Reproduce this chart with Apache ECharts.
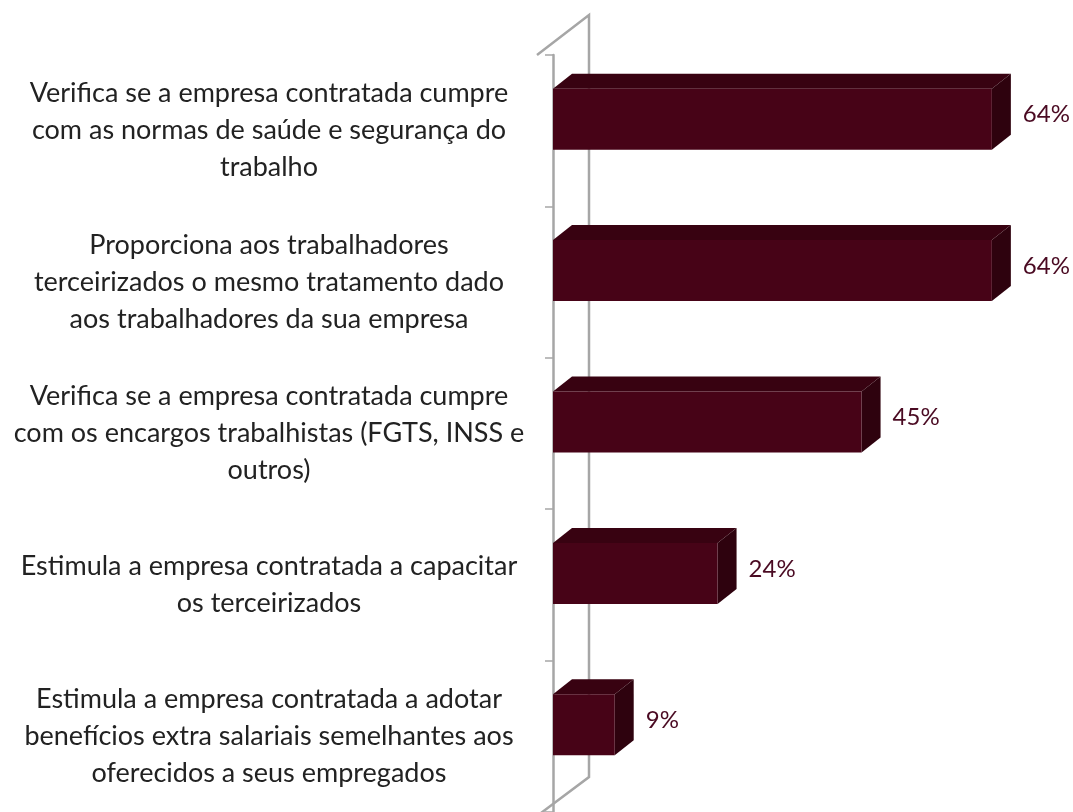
<!DOCTYPE html>
<html>
<head>
<meta charset="utf-8">
<script src="https://cdn.jsdelivr.net/npm/echarts@6/dist/echarts.min.js"></script>
<style>
  html, body { margin: 0; padding: 0; background: #fff; }
  #chart { width: 1073px; height: 812px; }
</style>
</head>
<body>
<div id="chart"></div>
<script>
const categories = [
  "Verifica se a empresa contratada cumpre\ncom as normas de saúde e segurança do\ntrabalho",
  "Proporciona aos trabalhadores\nterceirizados o mesmo tratamento dado\naos trabalhadores da sua empresa",
  "Verifica se a empresa contratada cumpre\ncom os encargos trabalhistas (FGTS, INSS e\noutros)",
  "Estimula a empresa contratada a capacitar\nos terceirizados",
  "Estimula a empresa contratada a adotar\nbenefícios extra salariais semelhantes aos\noferecidos a seus empregados"
];
const values = [64, 64, 45, 24, 9];

const FRONT = "#470317";
const TOP = "#380211";
const SIDE = "#2e020e";
const WALL = "#a6a6a6";
const FONT = "Lato, 'Open Sans', sans-serif";

const chart = echarts.init(document.getElementById("chart"));

const option = {
  animation: false,
  grid: { left: 553, right: 40, top: 55, bottom: 0 },
  graphic: [
    {
      type: "polyline",
      z: 0,
      shape: { points: [[537, 55], [589, 15], [589, 777], [537, 816]] },
      style: { stroke: WALL, lineWidth: 2.5, fill: null }
    }
  ],
  xAxis: { type: "value", min: 0, max: 70, show: false },
  yAxis: {
    type: "category",
    inverse: true,
    data: categories,
    offset: 16,
    axisLine: { show: true, lineStyle: { color: WALL, width: 2.5 } },
    axisTick: { show: true, length: 8, lineStyle: { color: WALL, width: 1.5 } },
    axisLabel: {
      align: "center",
      margin: 268,
      color: "#222",
      fontFamily: FONT,
      fontSize: 27,
      lineHeight: 37
    }
  },
  series: [
    {
      type: "custom",
      z: 5,
      data: values.map((v, i) => [v, i]),
      encode: { x: 0, y: 1 },
      renderItem: (params, api) => {
        const start = api.coord([0, api.value(1)]);
        const end = api.coord([api.value(0), api.value(1)]);
        const x0 = start[0], x1 = end[0], cy = start[1];
        const top = cy - 42, h = 61, dx = 19, dy = 15;
        return {
          type: "group",
          children: [
            {
              type: "polygon",
              shape: { points: [[x0, top], [x0 + dx, top - dy], [x1 + dx, top - dy], [x1, top]] },
              style: { fill: TOP }
            },
            {
              type: "polygon",
              shape: { points: [[x1, top], [x1 + dx, top - dy], [x1 + dx, top - dy + h], [x1, top + h]] },
              style: { fill: SIDE }
            },
            {
              type: "rect",
              shape: { x: x0, y: top, width: x1 - x0, height: h },
              style: { fill: FRONT }
            },
            {
              type: "text",
              style: {
                x: x1 + dx + 12,
                y: cy - 16,
                text: api.value(0) + "%",
                fill: "#4a0a22",
                font: "24px " + FONT,
                verticalAlign: "middle"
              }
            }
          ]
        };
      }
    }
  ]
};

chart.setOption(option);
</script>
</body>
</html>
